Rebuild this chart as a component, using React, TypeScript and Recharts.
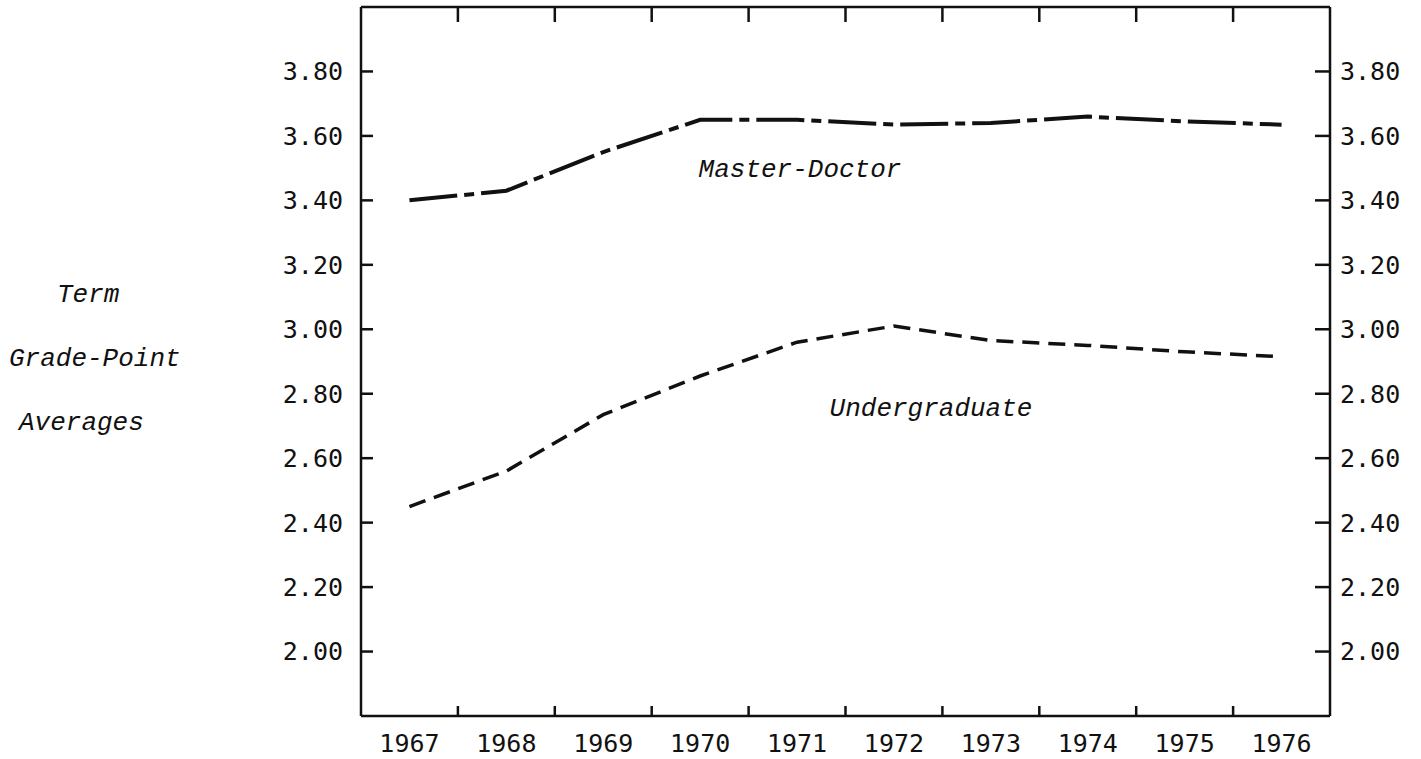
import React from "react";
import { LineChart, Line, XAxis, YAxis, Customized } from "recharts";

const years = [1967, 1968, 1969, 1970, 1971, 1972, 1973, 1974, 1975, 1976];
const masterDoctor = [3.4, 3.43, 3.55, 3.65, 3.65, 3.635, 3.64, 3.66, 3.645, 3.635];
const undergraduate = [2.45, 2.56, 2.735, 2.855, 2.96, 3.01, 2.965, 2.95, 2.93, 2.915];
const yTicks = [2.0, 2.2, 2.4, 2.6, 2.8, 3.0, 3.2, 3.4, 3.6, 3.8];
const yearEdges = [1967.5, 1968.5, 1969.5, 1970.5, 1971.5, 1972.5, 1973.5, 1974.5, 1975.5];
const sideLabel = ["Term", "Grade-Point", "Averages"];
const sideLabelX = [57, 9, 19];

const data = years.map((year, i) => ({
  year,
  master: masterDoctor[i],
  under: undergraduate[i],
}));

const W = 1421;
const H = 759;
const TOP_H = 7;
const BOTTOM_H = 43;
const PLOT_H = H - TOP_H - BOTTOM_H;

const INK = "#111";
const NUM_FONT = "'DejaVu Sans Mono', monospace";
const ITALIC_FONT = "'Liberation Mono', monospace";
const tickStroke = { stroke: INK, strokeWidth: 2.5 };

// bottom axis: year labels at integers; at the half-years a short inward mark
// on the bottom edge and a longer one hanging from the top edge
function BottomTick({ x, y, payload }: any) {
  const v = payload.value;
  if (Number.isInteger(v)) {
    return (
      <text x={x} y={y + 36} textAnchor="middle" fontFamily={NUM_FONT} fontSize={25} fill={INK}>
        {v}
      </text>
    );
  }
  return (
    <g>
      <line x1={x} x2={x} y1={y} y2={y - 10} stroke={INK} strokeWidth={2.5} />
      <line x1={x} x2={x} y1={y - PLOT_H} y2={y - PLOT_H + 15} stroke={INK} strokeWidth={2.5} />
    </g>
  );
}

function Annotations() {
  const italic = { fontFamily: ITALIC_FONT, fontStyle: "italic", fontSize: 26, fill: INK } as const;
  return (
    <g>
      {sideLabel.map((s, i) => (
        <text key={s} x={sideLabelX[i]} y={302 + i * 64} textAnchor="start" {...italic}>
          {s}
        </text>
      ))}
      <text x={800} y={177} textAnchor="middle" {...italic}>
        Master-Doctor
      </text>
      <text x={931} y={416} textAnchor="middle" {...italic}>
        Undergraduate
      </text>
    </g>
  );
}

export default function App() {
  const numTick = { fontFamily: NUM_FONT, fontSize: 25, fill: INK };
  return (
    <div style={{ position: "absolute", left: 0, top: 0, width: W, height: H, background: "#fff" }}>
      <LineChart width={W} height={H} data={data} margin={{ top: 0, right: 0, bottom: 0, left: 0 }}>
        <XAxis
          xAxisId="b"
          dataKey="year"
          type="number"
          domain={[1966.5, 1976.5]}
          ticks={[...years, ...yearEdges].sort((a, b) => a - b)}
          interval={0}
          height={BOTTOM_H}
          tickSize={0}
          tickMargin={0}
          tickLine={false}
          axisLine={tickStroke}
          tick={<BottomTick />}
        />
        <XAxis
          xAxisId="t"
          dataKey="year"
          orientation="top"
          type="number"
          domain={[1966.5, 1976.5]}
          ticks={yearEdges}
          interval={0}
          height={TOP_H}
          tickLine={false}
          axisLine={tickStroke}
          tickFormatter={() => ""}
        />
        <YAxis
          yAxisId="l"
          type="number"
          domain={[1.8, 4.0]}
          ticks={yTicks}
          interval={0}
          width={361}
          tickSize={-12}
          tickMargin={30}
          tickLine={tickStroke}
          axisLine={tickStroke}
          tick={numTick}
          tickFormatter={(v: number) => v.toFixed(2)}
        />
        <YAxis
          yAxisId="r"
          orientation="right"
          type="number"
          domain={[1.8, 4.0]}
          ticks={yTicks}
          interval={0}
          width={91}
          tickSize={-15}
          tickMargin={25}
          tickLine={tickStroke}
          axisLine={tickStroke}
          tick={numTick}
          tickFormatter={(v: number) => v.toFixed(2)}
        />
        <Line
          xAxisId="b"
          yAxisId="l"
          dataKey="master"
          type="linear"
          stroke={INK}
          strokeWidth={4}
          strokeDasharray="48 7 10 7"
          dot={false}
          isAnimationActive={false}
        />
        <Line
          xAxisId="t"
          yAxisId="r"
          dataKey="under"
          type="linear"
          stroke={INK}
          strokeWidth={3.5}
          strokeDasharray="17 9"
          dot={false}
          isAnimationActive={false}
        />
        <Customized component={Annotations} />
      </LineChart>
    </div>
  );
}
